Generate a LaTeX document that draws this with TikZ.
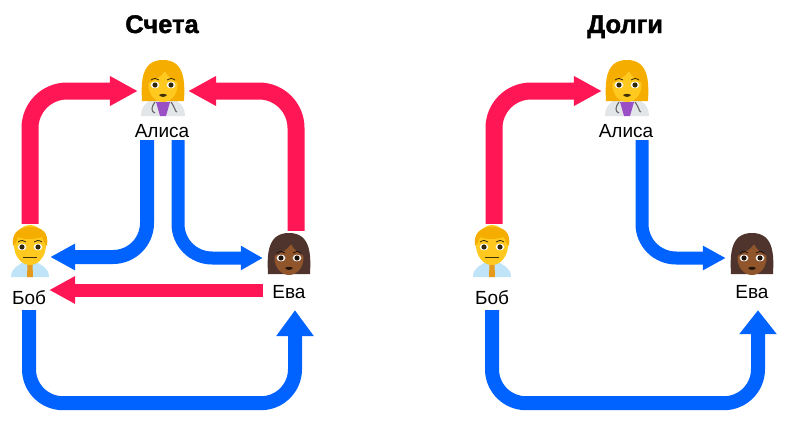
\documentclass[tikz,border=0pt]{standalone}
\usepackage{xcolor}
\usepackage{fontspec}
\setmainfont{Liberation Sans}
\newfontfamily\headfont[FakeBold=1.6]{Liberation Sans Bold}
\usetikzlibrary{arrows.meta, positioning}
\definecolor{debtred}{HTML}{FF1654}
\definecolor{debtblue}{HTML}{0062FF}
\definecolor{goldhair}{HTML}{F5AD00}
\definecolor{goldskin}{HTML}{FFC91F}
\definecolor{darkhair}{HTML}{4E342C}
\definecolor{darkskin}{HTML}{90552A}
\definecolor{shirtblue}{HTML}{BFE3F7}
\definecolor{coatgrey}{HTML}{E3E6E8}
\definecolor{blouse}{HTML}{9B4FC4}
\definecolor{tieorange}{HTML}{E59A1C}

\tikzset{
  pics/eyes/.style={code={
    \fill[white] (-8,0) ellipse [x radius=4.4pt, y radius=3.4pt] (8,0) ellipse [x radius=4.4pt, y radius=3.4pt];
    \fill[#1] (-8,0) circle [radius=2.6pt] (8,0) circle [radius=2.6pt];
    \draw[#1, line width=0.8pt] (-12,-5) .. controls (-9,-7) and (-6,-7) .. (-4,-5) (4,-5) .. controls (6,-7) and (9,-7) .. (12,-5);
  }},
  pics/woman/.style n args={2}{code={
    \fill[#1] (-21,13) .. controls (-22,-6) and (-22,-28) .. (0,-28) .. controls (22,-28) and (22,-6) .. (21,13) -- cycle;
    \fill[#2] (0,-3) ellipse [x radius=14.5pt, y radius=17pt];
    \fill[#1] (-15,-5) .. controls (-8,-8) and (-2,-11) .. (2,-17) .. controls (5,-11) and (10,-8) .. (15,-5) -- (14,-22) -- (-14,-22) -- cycle;
    \fill[black!75!#2] (-4,7) .. controls (-2,5.5) and (2,5.5) .. (4,7) .. controls (2,9.5) and (-2,9.5) .. (-4,7) -- cycle;
    \pic at (0,-3) {eyes=black!80!#2};
  }},
  pics/man/.style={code={
    \fill[shirtblue] (-19,25) .. controls (-19,15) and (-10,13) .. (-5,9) -- (5,9) .. controls (10,13) and (19,15) .. (19,25) -- cycle;
    \fill[tieorange] (-2.5,12) -- (2.5,12) -- (3,25) -- (-3,25) -- cycle;
    \fill[goldskin] (0,-7) ellipse [x radius=16pt, y radius=20pt];
    \fill[goldhair] (-17,-6) .. controls (-19,-20) and (-10,-25) .. (0,-25) .. controls (12,-25) and (19,-20) .. (17,-6) .. controls (14,-9) and (13,-12) .. (12,-15) .. controls (2,-12) and (-8,-13) .. (-12,-15) .. controls (-13,-12) and (-14,-9) .. (-17,-6) -- cycle;
    \fill[black!75!goldskin] (-7,5) -- (7,5) -- (7,6.2) -- (-7,6.2) -- cycle;
    \pic at (0,-5) {eyes=black!80!goldskin};
  }},
  pics/coat/.style={code={
    \fill[coatgrey] (-22,28) .. controls (-22,16) and (-14,13) .. (-6,9) -- (6,9) .. controls (14,13) and (22,16) .. (22,28) -- cycle;
    \fill[blouse] (-7,14) -- (7,14) -- (3,28) -- (-3,28) -- cycle;
    \draw[black!60, line width=1.1pt] (-8,14) .. controls (-12,19) and (-12,24) .. (-8,25) (8,14) .. controls (12,19) and (12,24) .. (14,24);
  }}
}

\begin{document}
\begin{tikzpicture}[x=1pt, y=-1pt]
\tikzstyle{heading} = [anchor=base, font=\fontsize{25.5}{28}\selectfont\headfont]
\tikzstyle{caption} = [inner sep=0pt, minimum height=24pt, minimum width=40pt, font=\fontsize{19}{20}\selectfont]
\tikzstyle{person} = [inner sep=0pt, minimum height=56pt, minimum width=40pt]
\tikzstyle{redarrow} = [draw=debtred, line width=17pt, rounded corners=37pt, -{Triangle[length=28pt, width=28pt]}, debtred]
\tikzstyle{bluearrow} = [draw=debtblue, line width=14pt, rounded corners=34pt, -{Triangle[length=25pt, width=25pt]}, debtblue]
\useasboundingbox (0,0) rectangle (788,431);

\node (title1) [heading] at (162,33) {Счета};
\node (title2) [heading] at (625,33) {Долги};

% left
\node (alice) [person, minimum width=50pt, minimum height=50pt] at (163,91) {};
\node (bob) [person] at (30,252) {};
\node (eve) [person, minimum width=52pt, minimum height=54pt] at (289,258) {};
\node (aliceName) [caption, minimum height=18pt] at (162,131) {Алиса};
\node (bobName) [caption] at (29,298) {Боб};
\node (eveName) [caption, minimum height=36pt, minimum width=52pt] at (289,292) {Ева};

\pic at (163,88) {coat};
\pic at (163,88) {woman={goldhair}{goldskin}};
\pic at (30,252) {man};
\pic at (289,261) {woman={darkhair}{darkskin}};

\draw [redarrow] (bob.north) |- (alice.west);
\draw [redarrow] ([xshift=7pt]eve.north) |- (alice.east);
\draw [bluearrow] ([xshift=-15pt]aliceName.south) |- ([yshift=-5pt]bob.east);
\draw [bluearrow, line width=13pt, -{Triangle[length=22pt, width=23pt]}] ([xshift=16pt]aliceName.south) |- (eve.west);
\draw [redarrow, line width=13pt, -{Triangle[length=26pt, width=26pt]}] ([yshift=2pt]eveName.west) -- ([yshift=8pt]bobName.east);
\draw [bluearrow, -{Triangle[length=26pt, width=36pt]}] (bobName.south) -- ++(0,93) -| ([xshift=6pt]eveName.south);

% right
\node (alice2) [person, minimum width=50pt, minimum height=50pt] at (627,91) {};
\node (bob2) [person] at (492,252) {};
\node (eve2) [person, minimum width=52pt, minimum height=54pt] at (752,258) {};
\node (aliceName2) [caption, minimum height=18pt] at (626,131) {Алиса};
\node (bobName2) [caption] at (492,298) {Боб};
\node (eveName2) [caption, minimum height=36pt, minimum width=52pt] at (752,292) {Ева};

\pic at (627,88) {coat};
\pic at (627,88) {woman={goldhair}{goldskin}};
\pic at (492,252) {man};
\pic at (752,261) {woman={darkhair}{darkskin}};

\draw [redarrow] ([xshift=2pt]bob2.north) |- (alice2.west);
\draw [bluearrow, line width=13pt, -{Triangle[length=23pt, width=23pt]}] ([xshift=16pt]aliceName2.south) |- (eve2.west);
\draw [bluearrow, -{Triangle[length=24pt, width=36pt]}] (bobName2.south) -- ++(0,93) -| ([xshift=6pt]eveName2.south);
\end{tikzpicture}
\end{document}
